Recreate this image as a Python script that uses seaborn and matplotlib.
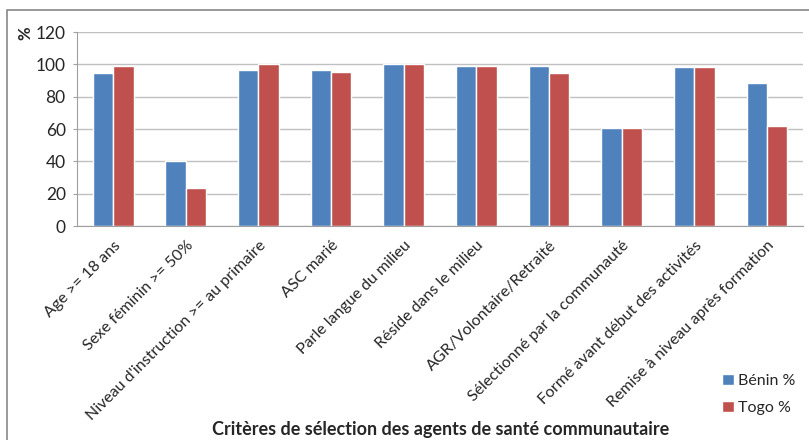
import pandas as pd
import numpy as np
import matplotlib
matplotlib.use('Agg')
import matplotlib.pyplot as plt
from matplotlib.patches import Rectangle
import seaborn as sns

criteres = [
    'Age >= 18 ans',
    'Sexe féminin >= 50%',
    "Niveau d'instruction >= au primaire",
    'ASC marié',
    'Parle langue du milieu',
    'Réside dans le milieu',
    'AGR/Volontaire/Retraité',
    'Sélectionné par la communauté',
    'Formé avant début des activités',
    'Remise à niveau après formation',
]
benin = [94.5, 40, 96.5, 96.5, 100, 99, 99, 60.8, 98.3, 88.8]
togo = [99.3, 23.5, 100, 95.4, 100, 99, 95, 60.8, 98.3, 62]
pays = ['Bénin %', 'Togo %']
couleurs = ['#4F81BD', '#C0504D']

df = pd.DataFrame({
    'critere': criteres * 2,
    'valeur': benin + togo,
    'pays': [pays[0]] * len(criteres) + [pays[1]] * len(criteres),
})

sns.set_style('white')
plt.rcParams['font.family'] = ['Lato', 'DejaVu Sans']

fig = plt.figure(figsize=(8.09, 4.4), dpi=100)
ax = fig.add_axes([0.095, 0.486, 0.898, 0.441])

sns.barplot(data=df, x='critere', y='valeur', hue='pays', palette=couleurs,
            width=0.56, gap=0, saturation=1, ax=ax, legend=True)

ax.set_ylim(0, 120)
ax.set_yticks(np.arange(0, 121, 20))
ax.set_xlim(-0.5, len(criteres) - 0.5)
ax.yaxis.grid(True, color='#C0C0C0', linewidth=1)
ax.set_axisbelow(True)
for s in ['top', 'right']:
    ax.spines[s].set_visible(False)
ax.spines['left'].set_color('#A0A0A0')
ax.spines['bottom'].set_color('#A0A0A0')
ax.tick_params(axis='y', labelsize=12.5, length=3, color='#A0A0A0', left=True, pad=5)
ax.tick_params(axis='x', labelsize=11.5, length=0, pad=9)
plt.setp(ax.get_xticklabels(), rotation=45, ha='right', rotation_mode='anchor')
ax.set_xlabel('')
ax.set_ylabel('')

fig.text(0.031, 0.925, '%', rotation=90, fontsize=12, fontweight='bold',
         ha='center', va='center')
fig.text(0.545, 0.023, 'Critères de sélection des agents de santé communautaire',
         fontsize=13, fontweight='bold', ha='center', va='center')

leg = ax.legend(loc='upper left', bbox_to_anchor=(0.885, 0.165), bbox_transform=fig.transFigure,
                frameon=False, fontsize=11.5, handlelength=0.7, handleheight=0.7,
                handletextpad=0.3, labelspacing=0.8, borderaxespad=0)

fig.patches.append(Rectangle((7 / 809, -0.1), 1.1, 1 - 10 / 440 + 0.1,
                             transform=fig.transFigure, fill=False,
                             edgecolor='#888888', linewidth=1.2))

fig.savefig('out.png', dpi=100)
